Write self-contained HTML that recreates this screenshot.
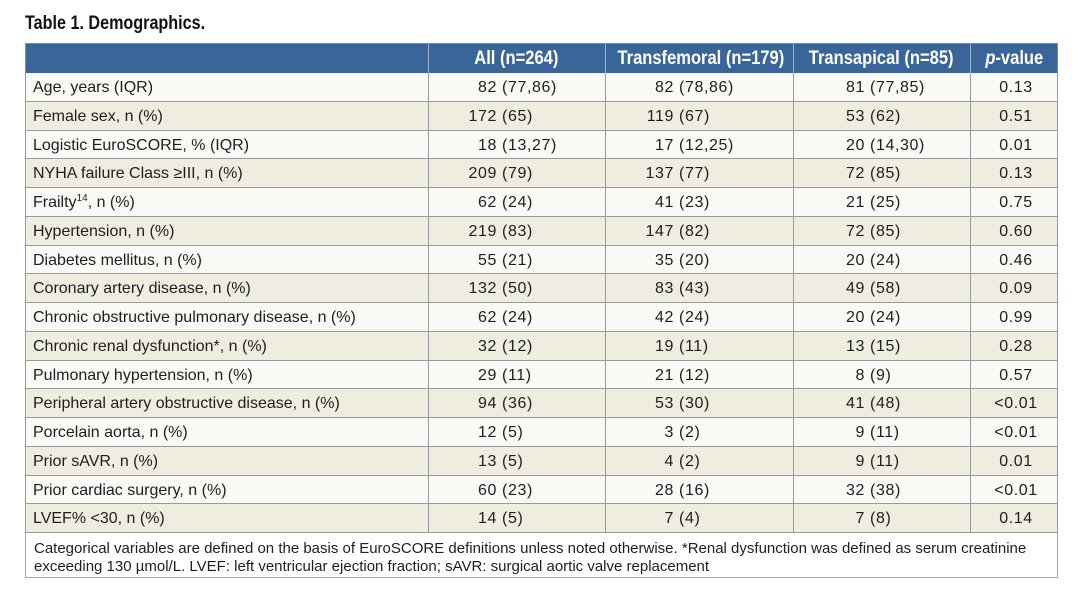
<!DOCTYPE html>
<html><head><meta charset="utf-8"><style>
html,body{margin:0;padding:0;background:#fff;}
body{width:1073px;height:592px;position:relative;overflow:hidden;font-family:"Liberation Sans",Arial,sans-serif;color:#1e1e1e;}
.title{position:absolute;left:25px;top:13px;line-height:21px;font-size:19px;font-weight:bold;transform:scaleX(0.85);transform-origin:0 0;white-space:nowrap;color:#111;}
.hdr{position:absolute;left:25px;top:43px;width:1033px;height:30px;background:#3a6599;border-top:1px solid #8c8c8c;box-sizing:border-box;}
.hc{position:absolute;top:0;height:29px;line-height:29px;text-align:center;color:#fff;font-weight:bold;font-size:19px;white-space:nowrap;}
.hc span{display:inline-block;transform:scaleX(0.87);}
.r{position:absolute;left:25px;width:1033px;border-bottom:1px solid #9a9a9a;box-sizing:border-box;font-size:16px;}
.w{background:#faf9f5;}
.b{background:#efece0;}
.c{position:absolute;top:0;line-height:30px;white-space:nowrap;}
.l{left:8px;}
.a,.t,.p,.v{letter-spacing:0.6px;}
.a{left:403px;}
.t{left:580px;}
.p{left:768px;}
.v{left:947px;width:88px;text-align:center;}
.a .n,.t .n{display:inline-block;width:69px;text-align:right;}
.p .n{display:inline-block;width:72px;text-align:right;}
.vl{position:absolute;width:1px;background:#9a9a9a;}
.hl{position:absolute;width:1px;background:#9cb0c9;}
.foot{position:absolute;left:25px;top:533px;width:1033px;height:45px;box-sizing:border-box;border-left:1px solid #a8a8a8;border-right:1px solid #a8a8a8;border-bottom:1px solid #a8a8a8;background:#fff;font-size:15px;line-height:18px;padding:7px 0 0 8px;white-space:nowrap;}
sup{font-size:10px;vertical-align:6px;line-height:0;}
</style></head><body>
<div class="title">Table 1. Demographics.</div>

<div class="hdr">
  <div class="hc" style="left:403px;width:177px;"><span>All (n=264)</span></div>
  <div class="hc" style="left:580px;width:188px;"><span>Transfemoral (n=179)</span></div>
  <div class="hc" style="left:768px;width:177px;"><span>Transapical (n=85)</span></div>
  <div class="hc" style="left:945px;width:88px;"><span><i>p</i>-value</span></div>
</div>

<div class="r w" style="top:73px;height:29px;"><div class="c l">Age, years (IQR)</div><div class="c a"><span class="n">82</span> (77,86)</div><div class="c t"><span class="n">82</span> (78,86)</div><div class="c p"><span class="n">81</span> (77,85)</div><div class="c v">0.13</div></div>
<div class="r b" style="top:102px;height:29px;"><div class="c l">Female sex, n (%)</div><div class="c a"><span class="n">172</span> (65)</div><div class="c t"><span class="n">119</span> (67)</div><div class="c p"><span class="n">53</span> (62)</div><div class="c v">0.51</div></div>
<div class="r w" style="top:131px;height:28px;"><div class="c l">Logistic EuroSCORE, % (IQR)</div><div class="c a"><span class="n">18</span> (13,27)</div><div class="c t"><span class="n">17</span> (12,25)</div><div class="c p"><span class="n">20</span> (14,30)</div><div class="c v">0.01</div></div>
<div class="r b" style="top:159px;height:29px;"><div class="c l">NYHA failure Class ≥III, n (%)</div><div class="c a"><span class="n">209</span> (79)</div><div class="c t"><span class="n">137</span> (77)</div><div class="c p"><span class="n">72</span> (85)</div><div class="c v">0.13</div></div>
<div class="r w" style="top:188px;height:29px;"><div class="c l">Frailty<sup>14</sup>, n (%)</div><div class="c a"><span class="n">62</span> (24)</div><div class="c t"><span class="n">41</span> (23)</div><div class="c p"><span class="n">21</span> (25)</div><div class="c v">0.75</div></div>
<div class="r b" style="top:217px;height:29px;"><div class="c l">Hypertension, n (%)</div><div class="c a"><span class="n">219</span> (83)</div><div class="c t"><span class="n">147</span> (82)</div><div class="c p"><span class="n">72</span> (85)</div><div class="c v">0.60</div></div>
<div class="r w" style="top:246px;height:28px;"><div class="c l">Diabetes mellitus, n (%)</div><div class="c a"><span class="n">55</span> (21)</div><div class="c t"><span class="n">35</span> (20)</div><div class="c p"><span class="n">20</span> (24)</div><div class="c v">0.46</div></div>
<div class="r b" style="top:274px;height:29px;"><div class="c l">Coronary artery disease, n (%)</div><div class="c a"><span class="n">132</span> (50)</div><div class="c t"><span class="n">83</span> (43)</div><div class="c p"><span class="n">49</span> (58)</div><div class="c v">0.09</div></div>
<div class="r w" style="top:303px;height:29px;"><div class="c l">Chronic obstructive pulmonary disease, n (%)</div><div class="c a"><span class="n">62</span> (24)</div><div class="c t"><span class="n">42</span> (24)</div><div class="c p"><span class="n">20</span> (24)</div><div class="c v">0.99</div></div>
<div class="r b" style="top:332px;height:29px;"><div class="c l">Chronic renal dysfunction*, n (%)</div><div class="c a"><span class="n">32</span> (12)</div><div class="c t"><span class="n">19</span> (11)</div><div class="c p"><span class="n">13</span> (15)</div><div class="c v">0.28</div></div>
<div class="r w" style="top:361px;height:28px;"><div class="c l">Pulmonary hypertension, n (%)</div><div class="c a"><span class="n">29</span> (11)</div><div class="c t"><span class="n">21</span> (12)</div><div class="c p"><span class="n">8</span> (9)</div><div class="c v">0.57</div></div>
<div class="r b" style="top:389px;height:29px;"><div class="c l">Peripheral artery obstructive disease, n (%)</div><div class="c a"><span class="n">94</span> (36)</div><div class="c t"><span class="n">53</span> (30)</div><div class="c p"><span class="n">41</span> (48)</div><div class="c v">&lt;0.01</div></div>
<div class="r w" style="top:418px;height:29px;"><div class="c l">Porcelain aorta, n (%)</div><div class="c a"><span class="n">12</span> (5)</div><div class="c t"><span class="n">3</span> (2)</div><div class="c p"><span class="n">9</span> (11)</div><div class="c v">&lt;0.01</div></div>
<div class="r b" style="top:447px;height:29px;"><div class="c l">Prior sAVR, n (%)</div><div class="c a"><span class="n">13</span> (5)</div><div class="c t"><span class="n">4</span> (2)</div><div class="c p"><span class="n">9</span> (11)</div><div class="c v">0.01</div></div>
<div class="r w" style="top:476px;height:28px;"><div class="c l">Prior cardiac surgery, n (%)</div><div class="c a"><span class="n">60</span> (23)</div><div class="c t"><span class="n">28</span> (16)</div><div class="c p"><span class="n">32</span> (38)</div><div class="c v">&lt;0.01</div></div>
<div class="r b" style="top:504px;height:29px;"><div class="c l">LVEF% &lt;30, n (%)</div><div class="c a"><span class="n">14</span> (5)</div><div class="c t"><span class="n">7</span> (4)</div><div class="c p"><span class="n">7</span> (8)</div><div class="c v">0.14</div></div>

<!-- vertical lines data area -->
<div class="vl" style="left:25px;top:73px;height:460px;"></div>
<div class="vl" style="left:428px;top:73px;height:460px;"></div>
<div class="vl" style="left:605px;top:73px;height:460px;"></div>
<div class="vl" style="left:793px;top:73px;height:460px;"></div>
<div class="vl" style="left:970px;top:73px;height:460px;"></div>
<div class="vl" style="left:1057px;top:73px;height:460px;"></div>
<!-- header separators -->
<div class="hl" style="left:428px;top:44px;height:29px;"></div>
<div class="hl" style="left:605px;top:44px;height:29px;"></div>
<div class="hl" style="left:793px;top:44px;height:29px;"></div>
<div class="hl" style="left:970px;top:44px;height:29px;"></div>
<div class="vl" style="left:1057px;top:43px;height:30px;background:#8c8c8c;"></div>
<div class="vl" style="left:25px;top:43px;height:30px;background:#8c8c8c;"></div>

<div class="foot">Categorical variables are defined on the basis of EuroSCORE definitions unless noted otherwise. *Renal dysfunction was defined as serum creatinine<br>exceeding 130 µmol/L. LVEF: left ventricular ejection fraction; sAVR: surgical aortic valve replacement</div>
</body></html>
